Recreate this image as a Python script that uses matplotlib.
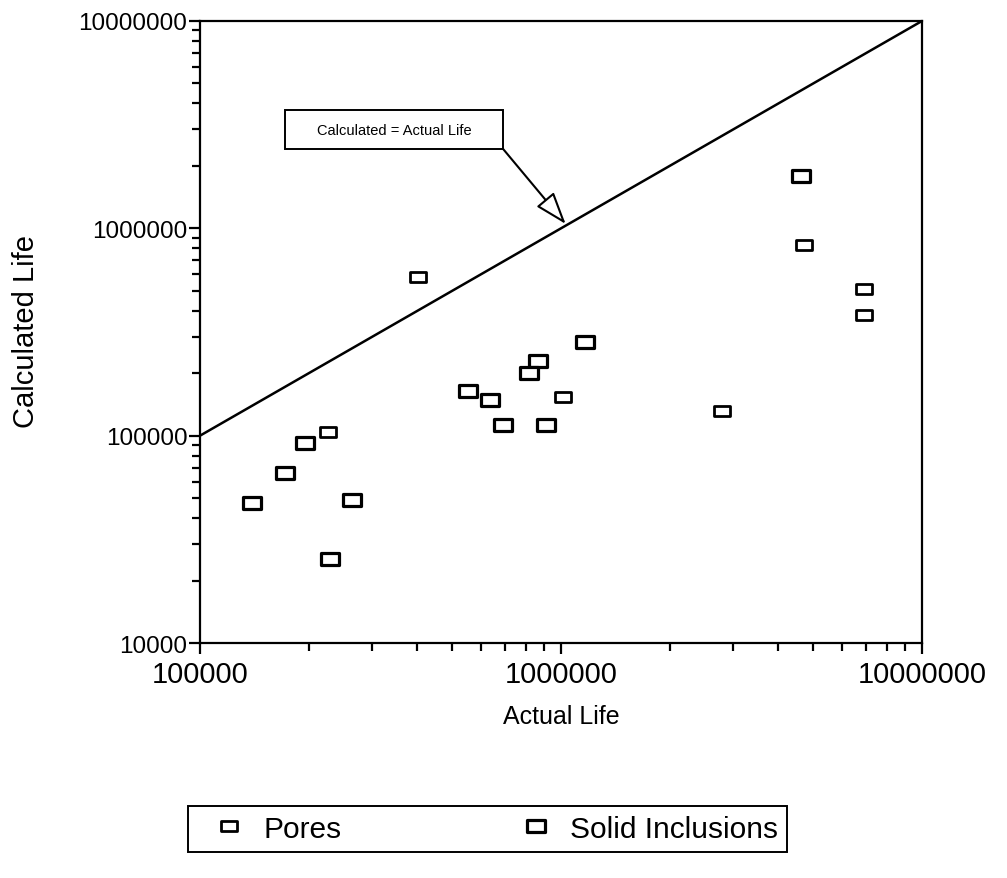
import matplotlib.pyplot as plt
from matplotlib.path import Path
from matplotlib.patches import Rectangle

plt.rcParams['font.family'] = ['Liberation Sans', 'DejaVu Sans']

# values
pores_actual = [2.26e5, 4.02e5, 1.013e6, 2.79e6, 4.71e6, 6.9e6, 6.9e6]
pores_calc = [1.045e5, 5.8e5, 1.54e5, 1.31e5, 8.28e5, 5.07e5, 3.8e5]

solid_actual = [1.95e5, 1.72e5, 1.39e5, 2.64e5, 2.29e5, 1.165e6, 8.63e5,
                8.15e5, 5.52e5, 6.36e5, 6.9e5, 9.08e5, 4.62e6]
solid_calc = [9.25e4, 6.6e4, 4.75e4, 4.9e4, 2.55e4, 2.84e5, 2.28e5,
              2.01e5, 1.65e5, 1.49e5, 1.12e5, 1.12e5, 1.78e6]

line_pts = [1e5, 1e7]
arrow_tip = (1.03e6, 1.05e6)
x_ticks = [1e5, 1e6, 1e7]
x_labels = ['100000', '1000000', '10000000']
y_ticks = [1e4, 1e5, 1e6, 1e7]
y_labels = ['10000', '100000', '1000000', '10000000']

rect = Path([(-1, -0.65), (1, -0.65), (1, 0.65), (-1, 0.65), (-1, -0.65)],
            [Path.MOVETO, Path.LINETO, Path.LINETO, Path.LINETO, Path.CLOSEPOLY])

fig = plt.figure(figsize=(10.07, 8.79), dpi=100)
ax = fig.add_axes([0.1986, 0.2673, 0.717, 0.7077])

ax.plot(line_pts, line_pts, color='black', lw=1.8)
ax.plot(pores_actual, pores_calc, ls='none', marker=rect, ms=11.5,
        mfc='white', mec='black', mew=2, label='Pores')
ax.plot(solid_actual, solid_calc, ls='none', marker=rect, ms=13.5,
        mfc='white', mec='black', mew=2.3, label='Solid Inclusions')

ax.set_xscale('log')
ax.set_yscale('log')
ax.set_xlim(1e5, 1e7)
ax.set_ylim(1e4, 1e7)
ax.set_xticks(x_ticks)
ax.set_xticklabels(x_labels)
ax.set_yticks(y_ticks)
ax.set_yticklabels(y_labels)
ax.tick_params(which='major', direction='out', length=8, width=1.6)
ax.tick_params(which='minor', direction='out', length=6, width=1.6)
ax.tick_params(axis='x', labelsize=21, pad=4)
ax.tick_params(axis='y', labelsize=17.5, pad=1)
for s in ax.spines.values():
    s.set_linewidth(1.6)

ax.set_xlabel('Actual Life', fontsize=18)
ax.xaxis.set_label_coords(0.5, -0.098)
ax.set_ylabel('Calculated Life', fontsize=21)
ax.yaxis.set_label_coords(-0.222, 0.503)

# label box for the diagonal
ax.add_patch(Rectangle((0.118, 0.794), 0.302, 0.063, transform=ax.transAxes,
                       fc='white', ec='black', lw=1.4, zorder=3))
ax.text(0.269, 0.8255, 'Calculated = Actual Life', transform=ax.transAxes,
        ha='center', va='center', fontsize=10.5, zorder=4)
ax.annotate('', xy=arrow_tip, xytext=(0.42, 0.794), textcoords='axes fraction',
            arrowprops=dict(arrowstyle='-|>,head_length=1.0,head_width=0.35',
                            mutation_scale=20, fc='white', ec='black', lw=1.5,
                            shrinkA=0, shrinkB=0))

leg = fig.legend(loc='center', bbox_to_anchor=(0.484, 0.056), ncol=2, fontsize=21.5,
                 frameon=True, fancybox=False, edgecolor='black', framealpha=1,
                 borderpad=0.3, columnspacing=5.4, handletextpad=0.05,
                 handlelength=2.2, borderaxespad=0)
leg.get_frame().set_linewidth(1.4)

fig.savefig('out.png', dpi=100)
